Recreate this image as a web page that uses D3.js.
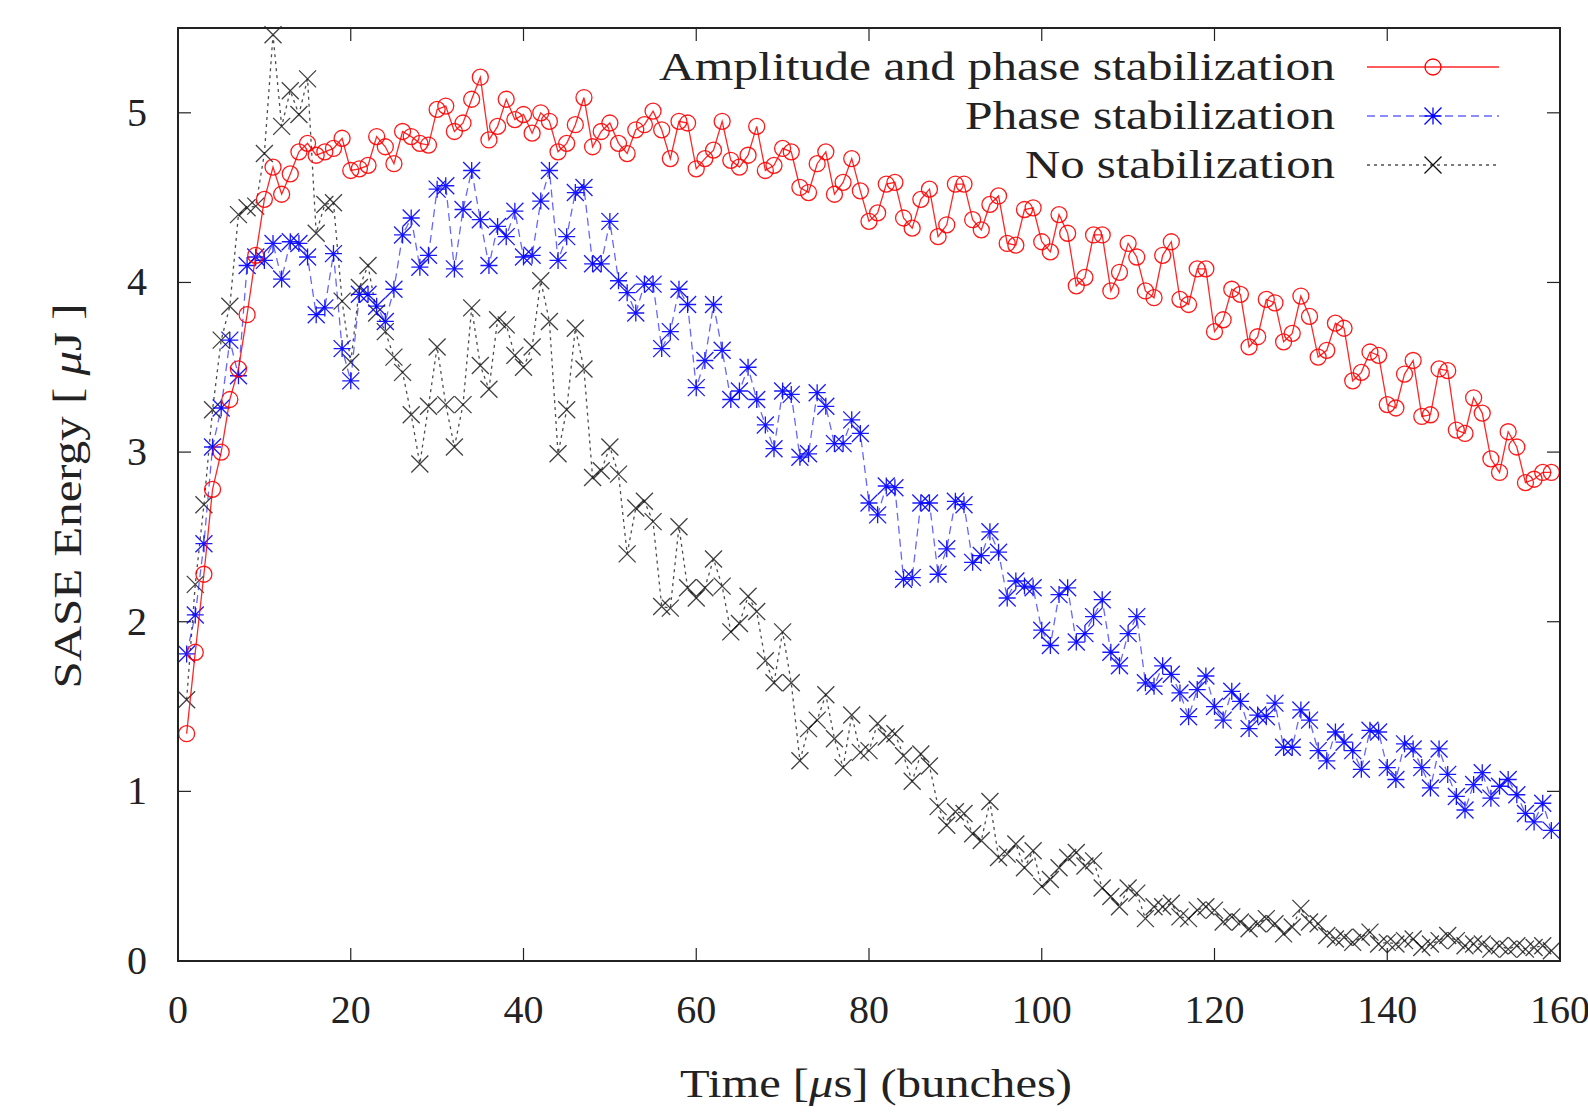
<!DOCTYPE html>
<html>
<head>
    <title>SASE Energy vs Time</title>
    <script src="https://d3js.org/d3.v7.min.js"></script>
    <style>
        body { margin: 0; background: #fff; }
        svg { font-family: "Liberation Serif", "DejaVu Serif", serif; }
        .tick-label { font-size: 40px; fill: #222; }
        .title { font-size: 40px; fill: #222; }
    </style>
</head>
<body>
<div id="chart"></div>
<script>
// bunch index 1..159
const bunches = d3.range(1, 160);

const ampPhase = [
    1.34, 1.82, 2.28, 2.78, 3.00, 3.31, 3.49, 3.81, 4.16, 4.49,
    4.68, 4.52, 4.64, 4.77, 4.82, 4.75, 4.77, 4.79, 4.85, 4.66,
    4.67, 4.69, 4.86, 4.80, 4.70, 4.89, 4.86, 4.82, 4.81, 5.02,
    5.04, 4.89, 4.94, 5.08, 5.21, 4.84, 4.92, 5.08, 4.96, 4.99,
    4.88, 5.00, 4.95, 4.77, 4.82, 4.93, 5.09, 4.80, 4.89, 4.94,
    4.82, 4.76, 4.90, 4.93, 5.01, 4.90, 4.73, 4.95, 4.94, 4.67,
    4.73, 4.78, 4.95, 4.72, 4.68, 4.75, 4.92, 4.66, 4.69, 4.79,
    4.77, 4.56, 4.53, 4.70, 4.77, 4.52, 4.59, 4.73, 4.54, 4.36,
    4.41, 4.58, 4.59, 4.38, 4.32, 4.49, 4.55, 4.27, 4.34, 4.58,
    4.58, 4.37, 4.31, 4.46, 4.51, 4.23, 4.22, 4.43, 4.44, 4.24,
    4.18, 4.40, 4.29, 3.98, 4.03, 4.28, 4.28, 3.95, 4.06, 4.23,
    4.15, 3.95, 3.91, 4.16, 4.24, 3.90, 3.87, 4.08, 4.08, 3.71,
    3.78, 3.96, 3.93, 3.62, 3.68, 3.90, 3.88, 3.65, 3.70, 3.92,
    3.80, 3.56, 3.60, 3.76, 3.73, 3.42, 3.47, 3.59, 3.57, 3.28,
    3.26, 3.46, 3.54, 3.21, 3.22, 3.49, 3.48, 3.13, 3.11, 3.32,
    3.23, 2.96, 2.88, 3.12, 3.03, 2.82, 2.84, 2.88, 2.88
];

const phaseOnly = [
    1.81, 2.04, 2.46, 3.03, 3.26, 3.66, 3.45, 4.10, 4.15, 4.13,
    4.23, 4.02, 4.24, 4.23, 4.15, 3.81, 3.85, 4.17, 3.61, 3.42,
    3.93, 3.93, 3.86, 3.77, 3.96, 4.28, 4.38, 4.09, 4.16, 4.55,
    4.57, 4.08, 4.43, 4.66, 4.37, 4.10, 4.33, 4.27, 4.42, 4.15,
    4.16, 4.48, 4.66, 4.13, 4.27, 4.53, 4.56, 4.11, 4.11, 4.36,
    4.01, 3.94, 3.82, 3.99, 3.99, 3.61, 3.71, 3.96, 3.87, 3.38,
    3.54, 3.87, 3.60, 3.31, 3.36, 3.50, 3.31, 3.16, 3.02, 3.36,
    3.34, 2.97, 2.99, 3.35, 3.27, 3.05, 3.05, 3.19, 3.11, 2.70,
    2.63, 2.80, 2.79, 2.25, 2.26, 2.70, 2.70, 2.28, 2.43, 2.71,
    2.69, 2.35, 2.39, 2.53, 2.41, 2.14, 2.24, 2.21, 2.20, 1.95,
    1.86, 2.16, 2.20, 1.88, 1.93, 2.03, 2.13, 1.82, 1.74, 1.93,
    2.03, 1.64, 1.62, 1.74, 1.69, 1.58, 1.44, 1.60, 1.68, 1.50,
    1.42, 1.59, 1.53, 1.37, 1.45, 1.44, 1.52, 1.26, 1.26, 1.48,
    1.42, 1.24, 1.18, 1.35, 1.29, 1.24, 1.13, 1.36, 1.35, 1.14,
    1.07, 1.28, 1.25, 1.14, 1.02, 1.25, 1.10, 0.97, 0.89, 1.04,
    1.11, 0.96, 1.03, 1.07, 0.98, 0.87, 0.82, 0.93, 0.77
];

const noStab = [
    1.54, 2.22, 2.69, 3.25, 3.66, 3.86, 4.40, 4.44, 4.45, 4.76,
    5.46, 4.92, 5.13, 4.99, 5.20, 4.29, 4.46, 4.47, 3.89, 3.53,
    3.97, 4.10, 3.82, 3.71, 3.56, 3.47, 3.22, 2.93, 3.27, 3.62,
    3.28, 3.03, 3.28, 3.85, 3.51, 3.37, 3.78, 3.75, 3.57, 3.50,
    3.62, 4.01, 3.77, 2.99, 3.25, 3.73, 3.49, 2.85, 2.89, 3.03,
    2.87, 2.40, 2.67, 2.71, 2.59, 2.09, 2.08, 2.56, 2.20, 2.14,
    2.20, 2.37, 2.21, 1.94, 1.99, 2.15, 2.06, 1.77, 1.64, 1.94,
    1.64, 1.18, 1.37, 1.42, 1.57, 1.31, 1.14, 1.45, 1.23, 1.24,
    1.40, 1.32, 1.34, 1.21, 1.06, 1.22, 1.15, 0.91, 0.80, 0.88,
    0.87, 0.75, 0.71, 0.94, 0.61, 0.63, 0.69, 0.55, 0.65, 0.44,
    0.48, 0.55, 0.61, 0.64, 0.56, 0.59, 0.43, 0.38, 0.32, 0.43,
    0.40, 0.25, 0.32, 0.32, 0.34, 0.26, 0.25, 0.30, 0.32, 0.30,
    0.23, 0.26, 0.23, 0.19, 0.22, 0.25, 0.22, 0.16, 0.20, 0.31,
    0.23, 0.22, 0.15, 0.13, 0.14, 0.11, 0.14, 0.17, 0.10, 0.11,
    0.10, 0.12, 0.13, 0.08, 0.10, 0.12, 0.15, 0.12, 0.09, 0.10,
    0.10, 0.07, 0.09, 0.07, 0.09, 0.07, 0.08, 0.09, 0.06
];

const seriesNames = ["Amplitude and phase stabilization", "Phase stabilization", "No stabilization"];
const xTicks = [0, 20, 40, 60, 80, 100, 120, 140, 160];
const yTicks = [0, 1, 2, 3, 4, 5];

const W = 1588, H = 1114;
const margin = { top: 28, right: 28, bottom: 153, left: 178 };
const width = W - margin.left - margin.right,
      height = H - margin.top - margin.bottom;

const svg = d3.select("#chart").append("svg")
    .attr("width", W).attr("height", H);

const g = svg.append("g").attr("transform", `translate(${margin.left},${margin.top})`);

const x = d3.scaleLinear().domain([0, 160]).range([0, width]);
const y = d3.scaleLinear().domain([0, 5.5]).range([height, 0]);

// ticks drawn inward on all four sides, gnuplot style
const tickLen = 13;
const tickG = g.append("g").attr("stroke", "#222").attr("stroke-width", 1.2);
xTicks.forEach(t => {
    tickG.append("line").attr("x1", x(t)).attr("x2", x(t)).attr("y1", height).attr("y2", height - tickLen);
    tickG.append("line").attr("x1", x(t)).attr("x2", x(t)).attr("y1", 0).attr("y2", tickLen);
});
yTicks.forEach(t => {
    tickG.append("line").attr("x1", 0).attr("x2", tickLen).attr("y1", y(t)).attr("y2", y(t));
    tickG.append("line").attr("x1", width).attr("x2", width - tickLen).attr("y1", y(t)).attr("y2", y(t));
});

g.selectAll(".xlab").data(xTicks).enter().append("text")
    .attr("class", "tick-label")
    .attr("x", d => x(d)).attr("y", height + 62)
    .attr("text-anchor", "middle")
    .text(d => d);

g.selectAll(".ylab").data(yTicks).enter().append("text")
    .attr("class", "tick-label")
    .attr("x", -31).attr("y", d => y(d) + 13)
    .attr("text-anchor", "end")
    .text(d => d);

// axis titles
svg.append("text").attr("class", "title")
    .attr("transform", "translate(81,496) rotate(-90)")
    .attr("text-anchor", "middle")
    .attr("textLength", 385).attr("lengthAdjust", "spacingAndGlyphs")
    .html('SASE Energy [ <tspan font-style="italic">μ</tspan>J ]');

svg.append("text").attr("class", "title")
    .attr("x", 876).attr("y", 1097)
    .attr("text-anchor", "middle")
    .attr("textLength", 392).attr("lengthAdjust", "spacingAndGlyphs")
    .html('Time [<tspan font-style="italic">μ</tspan>s] (bunches)');

const line = d3.line().x(d => x(d[0])).y(d => y(d[1]));

const styles = [
    { values: ampPhase, color: "#ff0000", dash: null, lineOpacity: 0.85, marker: "circle" },
    { values: phaseOnly, color: "#0000ff", dash: "8,5", lineOpacity: 0.6, marker: "star" },
    { values: noStab, color: "#111111", dash: "3,4", lineOpacity: 0.75, marker: "cross" }
];

function markerPath(kind, cx, cy) {
    const s = 8.5;
    if (kind === "circle") {
        const r = 8;
        return `M${cx - r},${cy}a${r},${r} 0 1,0 ${2 * r},0a${r},${r} 0 1,0 ${-2 * r},0`;
    }
    const diag = `M${cx - s},${cy - s}L${cx + s},${cy + s}M${cx - s},${cy + s}L${cx + s},${cy - s}`;
    if (kind === "cross") return diag;
    return diag + `M${cx - s},${cy}L${cx + s},${cy}M${cx},${cy - s}L${cx},${cy + s}`;
}

// draw no-stab first so red sits on top
[2, 1, 0].forEach(k => {
    const st = styles[k];
    const pts = bunches.map((b, i) => [b, st.values[i]]);
    g.append("path")
        .attr("d", line(pts))
        .attr("fill", "none")
        .attr("stroke", st.color)
        .attr("stroke-width", 1.3)
        .attr("stroke-opacity", st.lineOpacity)
        .attr("stroke-dasharray", st.dash);
    g.append("g").selectAll("path").data(pts).enter().append("path")
        .attr("d", d => markerPath(st.marker, x(d[0]), y(d[1])))
        .attr("fill", "none")
        .attr("stroke", st.color)
        .attr("stroke-opacity", k === 2 ? 0.8 : 0.9)
        .attr("stroke-width", 1.3);
});

// frame
g.append("rect").attr("width", width).attr("height", height)
    .attr("fill", "none").attr("stroke", "#222").attr("stroke-width", 2);

// legend
const legendRows = [
    { y: 67, width: 676 },
    { y: 116, width: 370 },
    { y: 165, width: 310 }
];
seriesNames.forEach((name, k) => {
    const st = styles[k], row = legendRows[k];
    svg.append("text").attr("class", "title")
        .attr("x", 1335).attr("y", row.y + 13)
        .attr("text-anchor", "end")
        .attr("textLength", row.width).attr("lengthAdjust", "spacingAndGlyphs")
        .text(name);
    svg.append("line")
        .attr("x1", 1367).attr("x2", 1499).attr("y1", row.y).attr("y2", row.y)
        .attr("stroke", st.color).attr("stroke-width", 1.3)
        .attr("stroke-opacity", st.lineOpacity)
        .attr("stroke-dasharray", st.dash);
    svg.append("path")
        .attr("d", markerPath(st.marker, 1433, row.y))
        .attr("fill", "none").attr("stroke", st.color).attr("stroke-width", 1.3);
});
</script>
</body>
</html>
